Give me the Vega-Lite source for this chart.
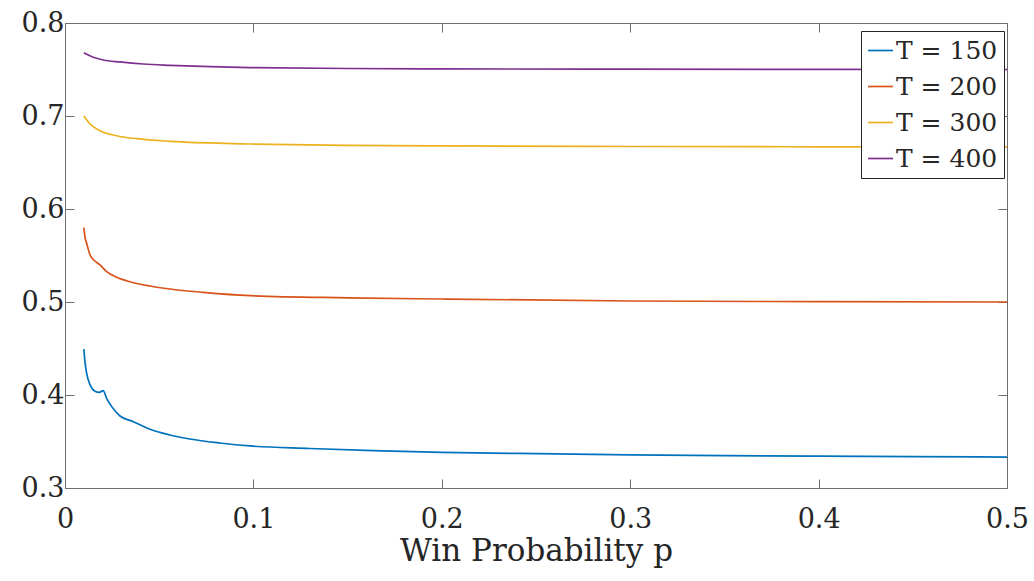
{
  "$schema": "https://vega.github.io/schema/vega-lite/v6.json",
  "width": 942,
  "height": 465,
  "autosize": {"type": "none"},
  "padding": {"left": 65, "top": 23, "right": 27, "bottom": 93},
  "background": "white",
  "config": {
    "view": {"stroke": "#6e6e6e", "strokeWidth": 1},
    "font": "DejaVu Serif",
    "axis": {"grid": false, "domainColor": "#6e6e6e", "tickColor": "#6e6e6e", "labelColor": "#262626", "titleColor": "#262626", "labelFont": "DejaVu Serif", "titleFont": "DejaVu Serif", "labelFontSize": 27, "titleFontSize": 31, "titleFontWeight": "normal", "tickSize": -9, "tickWidth": 1},
    "legend": {"labelFont": "DejaVu Serif"}
  },
  "data": {"values": [
    {"p": 0.01, "v": 0.4495, "s": "T = 150"},
    {"p": 0.0106, "v": 0.4358, "s": "T = 150"},
    {"p": 0.0115, "v": 0.4233, "s": "T = 150"},
    {"p": 0.0133, "v": 0.411, "s": "T = 150"},
    {"p": 0.0159, "v": 0.404, "s": "T = 150"},
    {"p": 0.0182, "v": 0.4028, "s": "T = 150"},
    {"p": 0.0203, "v": 0.4048, "s": "T = 150"},
    {"p": 0.0221, "v": 0.3964, "s": "T = 150"},
    {"p": 0.0248, "v": 0.3875, "s": "T = 150"},
    {"p": 0.0292, "v": 0.3774, "s": "T = 150"},
    {"p": 0.0363, "v": 0.3713, "s": "T = 150"},
    {"p": 0.0451, "v": 0.3631, "s": "T = 150"},
    {"p": 0.0557, "v": 0.357, "s": "T = 150"},
    {"p": 0.0663, "v": 0.3527, "s": "T = 150"},
    {"p": 0.0823, "v": 0.3484, "s": "T = 150"},
    {"p": 0.0982, "v": 0.3452, "s": "T = 150"},
    {"p": 0.13, "v": 0.3425, "s": "T = 150"},
    {"p": 0.1636, "v": 0.3401, "s": "T = 150"},
    {"p": 0.2, "v": 0.3384, "s": "T = 150"},
    {"p": 0.25, "v": 0.3369, "s": "T = 150"},
    {"p": 0.3, "v": 0.3357, "s": "T = 150"},
    {"p": 0.35, "v": 0.3348, "s": "T = 150"},
    {"p": 0.4, "v": 0.3342, "s": "T = 150"},
    {"p": 0.45, "v": 0.3337, "s": "T = 150"},
    {"p": 0.5, "v": 0.3333, "s": "T = 150"},
    {"p": 0.01, "v": 0.58, "s": "T = 200"},
    {"p": 0.0106, "v": 0.57, "s": "T = 200"},
    {"p": 0.0115, "v": 0.5631, "s": "T = 200"},
    {"p": 0.0133, "v": 0.5505, "s": "T = 200"},
    {"p": 0.0159, "v": 0.5441, "s": "T = 200"},
    {"p": 0.0186, "v": 0.5398, "s": "T = 200"},
    {"p": 0.0221, "v": 0.5326, "s": "T = 200"},
    {"p": 0.0274, "v": 0.5266, "s": "T = 200"},
    {"p": 0.0345, "v": 0.5218, "s": "T = 200"},
    {"p": 0.0451, "v": 0.5172, "s": "T = 200"},
    {"p": 0.0557, "v": 0.514, "s": "T = 200"},
    {"p": 0.0734, "v": 0.5104, "s": "T = 200"},
    {"p": 0.0982, "v": 0.5068, "s": "T = 200"},
    {"p": 0.15, "v": 0.5045, "s": "T = 200"},
    {"p": 0.2, "v": 0.5032, "s": "T = 200"},
    {"p": 0.3, "v": 0.5011, "s": "T = 200"},
    {"p": 0.4, "v": 0.5004, "s": "T = 200"},
    {"p": 0.5, "v": 0.5, "s": "T = 200"},
    {"p": 0.01, "v": 0.7, "s": "T = 300"},
    {"p": 0.0133, "v": 0.6914, "s": "T = 300"},
    {"p": 0.0186, "v": 0.6842, "s": "T = 300"},
    {"p": 0.0274, "v": 0.6788, "s": "T = 300"},
    {"p": 0.038, "v": 0.6756, "s": "T = 300"},
    {"p": 0.0557, "v": 0.6728, "s": "T = 300"},
    {"p": 0.077, "v": 0.671, "s": "T = 300"},
    {"p": 0.0982, "v": 0.6699, "s": "T = 300"},
    {"p": 0.15, "v": 0.6685, "s": "T = 300"},
    {"p": 0.2, "v": 0.6678, "s": "T = 300"},
    {"p": 0.3, "v": 0.6672, "s": "T = 300"},
    {"p": 0.4, "v": 0.6669, "s": "T = 300"},
    {"p": 0.5, "v": 0.6667, "s": "T = 300"},
    {"p": 0.01, "v": 0.768, "s": "T = 400"},
    {"p": 0.015, "v": 0.7631, "s": "T = 400"},
    {"p": 0.0203, "v": 0.7602, "s": "T = 400"},
    {"p": 0.0292, "v": 0.7581, "s": "T = 400"},
    {"p": 0.0416, "v": 0.7559, "s": "T = 400"},
    {"p": 0.0557, "v": 0.7545, "s": "T = 400"},
    {"p": 0.077, "v": 0.753, "s": "T = 400"},
    {"p": 0.0982, "v": 0.752, "s": "T = 400"},
    {"p": 0.15, "v": 0.7511, "s": "T = 400"},
    {"p": 0.2, "v": 0.7507, "s": "T = 400"},
    {"p": 0.3, "v": 0.7503, "s": "T = 400"},
    {"p": 0.4, "v": 0.7501, "s": "T = 400"},
    {"p": 0.5, "v": 0.75, "s": "T = 400"}
  ]},
  "layer": [
    {
      "mark": {"type": "line", "strokeWidth": 1.7, "interpolate": "monotone"},
      "encoding": {
        "x": {"field": "p", "type": "quantitative", "scale": {"domain": [0, 0.5], "nice": false, "zero": false}, "axis": {"values": [0, 0.1, 0.2, 0.3, 0.4, 0.5], "format": "~g", "title": "Win Probability p", "labelPadding": 27, "titlePadding": 4, "labelFlush": false}},
        "y": {"field": "v", "type": "quantitative", "scale": {"domain": [0.3, 0.8], "nice": false, "zero": false}, "axis": {"values": [0.3, 0.4, 0.5, 0.6, 0.7, 0.8], "format": "~g", "title": null, "labelPadding": 10, "labelFlush": false}},
        "color": {"field": "s", "type": "nominal", "scale": {"domain": ["T = 150", "T = 200", "T = 300", "T = 400"], "range": ["#0072BD", "#D95319", "#EDB120", "#7E2F8E"]},
          "legend": {"title": null, "orient": "none", "legendX": 796, "legendY": 8, "symbolType": "stroke", "symbolSize": 625, "symbolStrokeWidth": 1.7, "labelFontSize": 25, "labelFont": "DejaVu Serif", "labelColor": "#262626", "strokeColor": "#262626", "fillColor": "white", "padding": 6, "rowPadding": 9, "labelOffset": 2, "symbolOffset": 0}}
      }
    },
    {
      "mark": {"type": "line", "opacity": 0},
      "encoding": {
        "x": {"field": "p", "type": "quantitative", "scale": {"domain": [0, 0.5], "nice": false, "zero": false}, "axis": {"orient": "top", "values": [0, 0.1, 0.2, 0.3, 0.4, 0.5], "labels": false, "title": null}},
        "y": {"field": "v", "type": "quantitative", "scale": {"domain": [0.3, 0.8], "nice": false, "zero": false}, "axis": {"orient": "right", "values": [0.3, 0.4, 0.5, 0.6, 0.7, 0.8], "labels": false, "title": null}},
        "detail": {"field": "s"}
      }
    }
  ],
  "resolve": {"axis": {"x": "independent", "y": "independent"}}
}
